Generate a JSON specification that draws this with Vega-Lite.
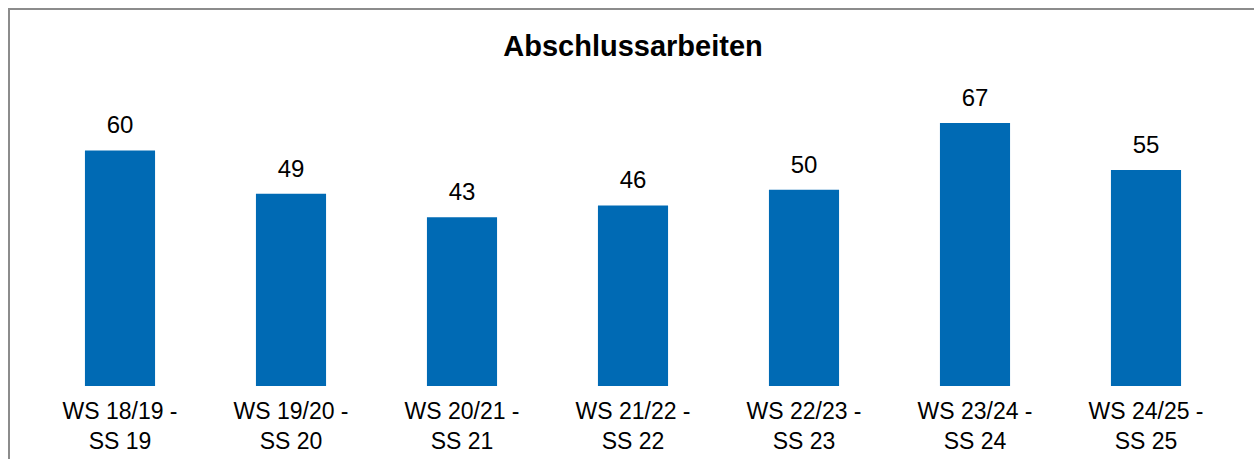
{
  "$schema": "https://vega.github.io/schema/vega-lite/v6.json",
  "autosize": "none",
  "padding": {"left": 9, "top": 9, "right": 0, "bottom": 0},
  "width": 1248,
  "height": 460,
  "background": "white",
  "title": {
    "text": "Abschlussarbeiten",
    "orient": "top",
    "anchor": "middle",
    "frame": "group",
    "offset": 0,
    "baseline": "alphabetic",
    "dy": 76,
    "font": "Liberation Sans",
    "fontSize": 29,
    "fontWeight": "bold",
    "color": "black"
  },
  "data": {
    "values": [
      {"period": "WS 18/19 - SS 19", "count": 60},
      {"period": "WS 19/20 - SS 20", "count": 49},
      {"period": "WS 20/21 - SS 21", "count": 43},
      {"period": "WS 21/22 - SS 22", "count": 46},
      {"period": "WS 22/23 - SS 23", "count": 50},
      {"period": "WS 23/24 - SS 24", "count": 67},
      {"period": "WS 24/25 - SS 25", "count": 55}
    ]
  },
  "encoding": {
    "x": {
      "field": "period",
      "type": "nominal",
      "sort": null,
      "scale": {"range": [25.5, 1222.5], "paddingInner": 0.59, "paddingOuter": 0.295},
      "axis": {
        "title": null,
        "orient": "bottom",
        "offset": -83,
        "domain": false,
        "ticks": false,
        "labelAngle": 0,
        "labelFont": "Liberation Sans",
        "labelFontSize": 23,
        "labelColor": "black",
        "labelLineHeight": 30,
        "labelPadding": 14,
        "labelExpr": "[split(datum.label, ' - ')[0] + ' -', split(datum.label, ' - ')[1]]"
      }
    },
    "y": {
      "field": "count",
      "type": "quantitative",
      "scale": {"domain": [0, 96.05], "range": [377, 0], "nice": false, "zero": true},
      "axis": null
    }
  },
  "layer": [
    {"mark": {"type": "bar", "color": "#006AB4"}},
    {
      "mark": {
        "type": "text",
        "baseline": "alphabetic",
        "dy": -17,
        "font": "Liberation Sans",
        "fontSize": 24,
        "color": "black"
      },
      "encoding": {"text": {"field": "count", "type": "quantitative"}}
    }
  ],
  "config": {
    "view": {"stroke": "#8c8c8c", "strokeWidth": 2},
    "axis": {"grid": false}
  }
}
